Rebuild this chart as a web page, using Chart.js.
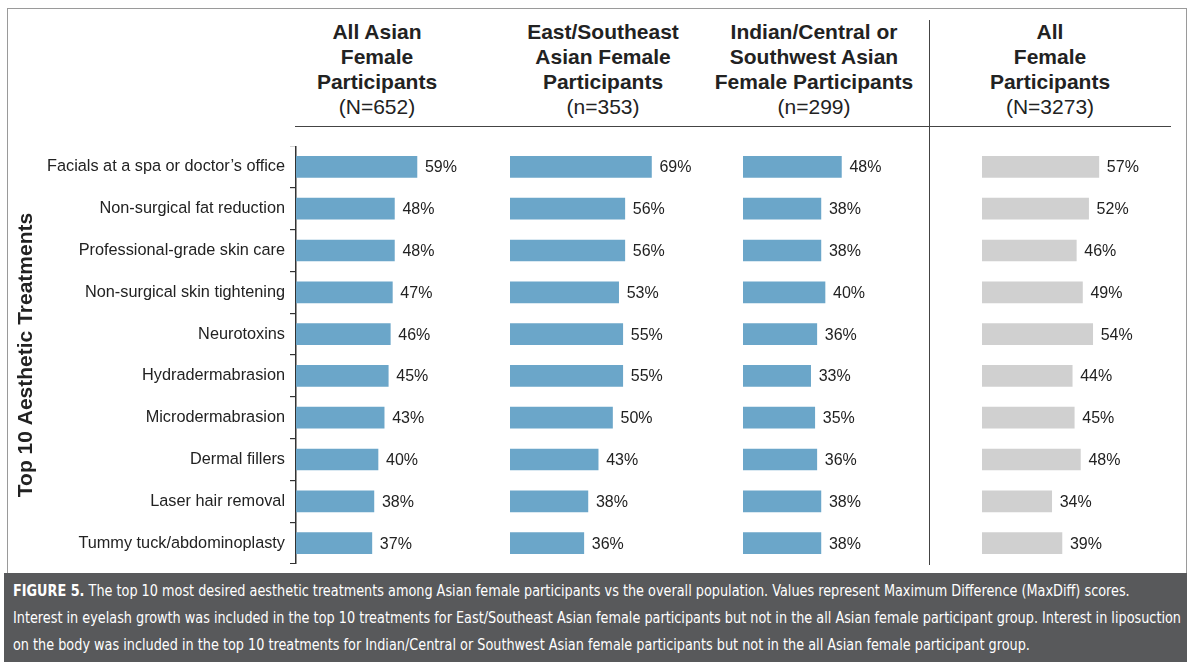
<!DOCTYPE html>
<html>
<head>
<meta charset="utf-8">
<script src="https://cdn.jsdelivr.net/npm/chart.js@4.4.1/dist/chart.umd.min.js"></script>
<style>
  body { margin: 0; background: #fff; width: 1200px; height: 668px; position: relative; overflow: hidden;
         font-family: "Liberation Sans", Arial, sans-serif; color: #222; }
  .frame { position: absolute; left: 7px; top: 8px; width: 1178px; height: 565px; border: 1px solid #9a9a9a; border-bottom: none; }
  .head { position: absolute; top: 19px; width: 240px; text-align: center; font-size: 21px; line-height: 25px; }
  .head b { font-weight: bold; }
  .hline { position: absolute; left: 295px; top: 126px; width: 876px; height: 1px; background: #444; }
  .vline { position: absolute; left: 929px; top: 20px; width: 1px; height: 545px; background: #444; }
  canvas { position: absolute; }
  .caption { position: absolute; left: 4px; top: 573px; width: 1183px; height: 89px; background: #58595b; color: #fff;
             font-family: "Liberation Sans Narrow", "DejaVu Sans Condensed", "Liberation Sans", sans-serif;
             font-size: 16px; line-height: 27px; padding-top: 4px; box-sizing: border-box; overflow: hidden; }
  .caption div { white-space: nowrap; margin-left: 9px; display: inline-block; transform-origin: 0 50%; }
</style>
</head>
<body>
<div class="frame"></div>
<div class="head" style="left:257px"><b>All Asian<br>Female<br>Participants</b><br>(N=652)</div>
<div class="head" style="left:483px"><b>East/Southeast<br>Asian Female<br>Participants</b><br>(n=353)</div>
<div class="head" style="left:694px"><b>Indian/Central or<br>Southwest Asian<br>Female Participants</b><br>(n=299)</div>
<div class="head" style="left:930px"><b>All<br>Female<br>Participants</b><br>(N=3273)</div>
<div class="hline"></div>
<div class="vline"></div>

<canvas id="c1" width="491" height="418" style="left:10px; top:146px"></canvas>
<canvas id="c2" width="205" height="418" style="left:510px; top:146px"></canvas>
<canvas id="c3" width="205" height="418" style="left:743px; top:146px"></canvas>
<canvas id="c4" width="205" height="418" style="left:982px; top:146px"></canvas>

<div class="caption">
  <div><b>FIGURE 5.</b> The top 10 most desired aesthetic treatments among Asian female participants vs the overall population. Values represent Maximum Difference (MaxDiff) scores.</div><br>
  <div id="capRef">Interest in eyelash growth was included in the top 10 treatments for East/Southeast Asian female participants but not in the all Asian female participant group. Interest in liposuction</div><br>
  <div>on the body was included in the top 10 treatments for Indian/Central or Southwest Asian female participants but not in the all Asian female participant group.</div>
</div>

<script>
const treatments = [
  'Facials at a spa or doctor\u2019s office',
  'Non-surgical fat reduction',
  'Professional-grade skin care',
  'Non-surgical skin tightening',
  'Neurotoxins',
  'Hydradermabrasion',
  'Microdermabrasion',
  'Dermal fillers',
  'Laser hair removal',
  'Tummy tuck/abdominoplasty'
];
const allAsian = [59, 48, 48, 47, 46, 45, 43, 40, 38, 37];
const eastSoutheast = [69, 56, 56, 53, 55, 55, 50, 43, 38, 36];
const indianCentral = [48, 38, 38, 40, 36, 33, 35, 36, 38, 38];
const allFemale = [57, 52, 46, 49, 54, 44, 45, 48, 34, 39];

const BLUE = '#6ba6c9';
const GREY = '#d0d0d0';
const FONT = '"Liberation Sans", Arial, sans-serif';

// squeeze the caption lines so they span the box like the condensed original
const capW = document.getElementById('capRef').getBoundingClientRect().width;
const squeeze = 1168 / capW;
document.querySelectorAll('.caption div').forEach(d => { d.style.transform = 'scaleX(' + squeeze + ')'; });

// writes the % value just past the end of each bar
const valueLabels = {
  id: 'valueLabels',
  afterDatasetsDraw(chart) {
    const ctx = chart.ctx;
    const ds = chart.data.datasets[0];
    ctx.save();
    ctx.font = '16px ' + FONT;
    ctx.fillStyle = '#222';
    ctx.textBaseline = 'middle';
    chart.getDatasetMeta(0).data.forEach((bar, i) => {
      ctx.fillText(ds.data[i] + '%', bar.x + 8, bar.y + 1);
    });
    ctx.restore();
  }
};

function panel(id, values, color, withAxis) {
  new Chart(document.getElementById(id), {
    type: 'bar',
    data: {
      labels: treatments,
      datasets: [{ data: values, backgroundColor: color, barThickness: 21 }]
    },
    options: {
      indexAxis: 'y',
      responsive: false,
      animation: false,
      layout: { padding: 0 },
      plugins: { legend: { display: false }, tooltip: { enabled: false } },
      scales: {
        x: { display: false, min: 0, max: 100 },
        y: {
          display: withAxis,
          afterFit(scale) {
            if (!withAxis) return;
            scale.width = 286;
            scale.paddingTop = 0;
            scale.paddingBottom = 0;
          },
          border: { display: true, color: '#333', width: 1.5 },
          grid: { drawOnChartArea: false, drawTicks: true, tickLength: 6, offset: true, color: '#333', lineWidth: 1.2 },
          ticks: { color: '#222', font: { family: FONT, size: 16.3 }, padding: 5 },
          title: {
            display: true,
            text: 'Top 10 Aesthetic Treatments',
            color: '#222',
            font: { family: FONT, size: 21, weight: 'bold' },
            padding: { top: 4, bottom: 4 }
          }
        }
      }
    },
    plugins: [valueLabels]
  });
}

panel('c1', allAsian, BLUE, true);
panel('c2', eastSoutheast, BLUE, false);
panel('c3', indianCentral, BLUE, false);
panel('c4', allFemale, GREY, false);
</script>
</body>
</html>
